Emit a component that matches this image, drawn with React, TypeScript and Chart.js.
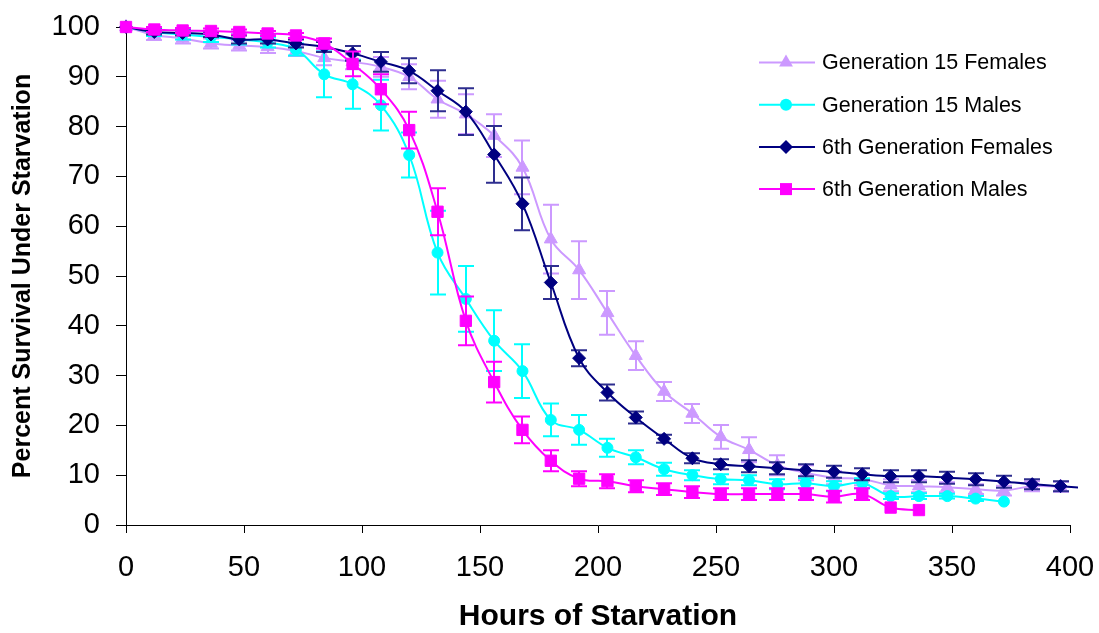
import React, { useEffect, useRef } from 'react';
import { Chart, registerables } from 'chart.js';

Chart.register(...registerables);

const HOURS = [0, 12, 24, 36, 48, 60, 72, 84, 96, 108, 120, 132, 144, 156, 168, 180, 192, 204, 216, 228, 240, 252, 264, 276, 288, 300, 312, 324, 336, 348, 360, 372, 384, 396, 408];

const SERIES_NAMES = ['Generation 15 Females', 'Generation 15 Males', '6th Generation Females', '6th Generation Males'];

const G15_FEMALES = [100, 98.4, 97.7, 96.7, 96.3, 96.0, 95.2, 93.8, 93.0, 92.0, 90.0, 85.5, 82.5, 78.2, 71.8, 57.4, 51.2, 42.6, 34.0, 26.8, 22.4, 17.7, 15.1, 12.0, 10.5, 9.5, 9.2, 8.0, 7.8, 7.6, 7.2, 6.9, 7.8, 7.7];
const G15_FEMALES_ERR = [0, 1.0, 1.0, 1.0, 1.0, 1.2, 1.0, 1.5, 1.5, 2.0, 2.5, 3.7, 4.0, 4.3, 5.4, 6.9, 5.8, 4.4, 2.9, 1.9, 1.9, 2.4, 2.5, 2.0, 1.5, 1.3, 1.2, 1.2, 1.2, 1.0, 1.0, 1.0, 1.0, 1.0];

const G15_MALES = [100, 99.0, 98.5, 98.0, 97.5, 96.9, 95.5, 90.5, 88.5, 84.3, 74.3, 54.7, 45.4, 37.0, 30.9, 21.1, 19.1, 15.5, 13.6, 11.2, 10.0, 9.2, 9.0, 8.2, 8.4, 7.8, 8.4, 5.8, 5.8, 5.8, 5.3, 4.7];
const G15_MALES_ERR = [0, 0.8, 1.0, 1.0, 1.0, 1.0, 1.2, 4.6, 4.9, 5.1, 4.5, 8.4, 6.6, 6.1, 5.4, 3.3, 3.0, 1.8, 1.4, 1.3, 1.0, 1.0, 1.0, 1.0, 1.0, 1.0, 1.0, 0.6, 0.6, 0.5, 0.5, 0];

const G6_FEMALES = [100, 99.0, 98.8, 98.5, 97.5, 97.5, 96.7, 96.0, 94.7, 93.0, 91.2, 87.2, 83.0, 74.4, 64.5, 48.7, 33.5, 26.6, 21.6, 17.3, 13.4, 12.2, 11.8, 11.4, 11.0, 10.7, 10.2, 9.8, 9.8, 9.5, 9.2, 8.7, 8.2, 7.8, 7.4];
const G6_FEMALES_ERR = [0, 0.5, 0.5, 0.5, 0.8, 0.8, 0.8, 1.0, 1.5, 2.0, 2.5, 4.1, 4.7, 5.7, 5.3, 3.3, 1.6, 1.6, 1.2, 0.8, 1.0, 1.0, 1.2, 1.2, 1.2, 1.2, 1.2, 1.2, 1.2, 1.2, 1.2, 1.2, 1.0, 1.0, 0];

const G6_MALES = [100, 99.5, 99.3, 99.2, 99.0, 98.7, 98.3, 96.7, 92.6, 87.5, 79.3, 62.9, 41.0, 28.7, 19.1, 12.9, 9.3, 8.8, 7.8, 7.2, 6.6, 6.2, 6.2, 6.2, 6.2, 5.7, 6.2, 3.5, 3.0];
const G6_MALES_ERR = [0, 0.5, 0.5, 0.5, 0.5, 0.5, 0.5, 1.0, 2.5, 3.0, 3.7, 4.7, 4.9, 4.1, 2.7, 2.1, 1.5, 1.4, 1.2, 1.2, 1.2, 1.2, 1.2, 1.2, 1.2, 1.2, 1.2, 0, 0];

const X_TICKS = [0, 50, 100, 150, 200, 250, 300, 350, 400];
const Y_TICKS = [0, 10, 20, 30, 40, 50, 60, 70, 80, 90, 100];

const COLORS = ['#CC99FF', '#00FFFF', '#000080', '#FF00FF'];
const ERR_COLORS = ['#CC99FF', '#00FFFF', '#2E2E8F', '#FF00FF'];
const STYLES = ['triangle', 'circle', 'rectRot', 'rect'];
const RADII = [7.5, 5.5, 6.5, 8];

const FONT = '"Liberation Sans", Arial, sans-serif';

const toPoints = (vals: number[]) => vals.map((v, i) => ({ x: HOURS[i], y: v }));

function drawMarker(ctx: CanvasRenderingContext2D, style: string, x: number, y: number, r: number, color: string) {
  ctx.save();
  ctx.fillStyle = color;
  ctx.beginPath();
  if (style === 'triangle') {
    ctx.moveTo(x, y - r);
    ctx.lineTo(x + r * Math.sin(Math.PI / 3), y + r / 2);
    ctx.lineTo(x - r * Math.sin(Math.PI / 3), y + r / 2);
    ctx.closePath();
  } else if (style === 'circle') {
    ctx.arc(x, y, r, 0, Math.PI * 2);
  } else if (style === 'rectRot') {
    ctx.moveTo(x, y - r);
    ctx.lineTo(x + r, y);
    ctx.lineTo(x, y + r);
    ctx.lineTo(x - r, y);
    ctx.closePath();
  } else {
    const s = r * Math.SQRT1_2;
    ctx.rect(x - s, y - s, 2 * s, 2 * s);
  }
  ctx.fill();
  ctx.restore();
}

const errorBarPlugin = {
  id: 'errorBars',
  beforeDatasetDraw(chart: any, args: any) {
    const ds = chart.data.datasets[args.index];
    const errs: number[] = ds.errors || [];
    const xs = chart.scales.x;
    const ys = chart.scales.y;
    const ctx: CanvasRenderingContext2D = chart.ctx;
    ctx.save();
    ctx.strokeStyle = ds.errColor;
    ctx.lineWidth = 2;
    ds.data.forEach((p: any, i: number) => {
      const e = errs[i] || 0;
      if (!e || p.x > 400) return;
      const px = Math.round(xs.getPixelForValue(p.x));
      const y1 = ys.getPixelForValue(p.y + e);
      const y2 = ys.getPixelForValue(p.y - e);
      ctx.beginPath();
      ctx.moveTo(px, y1);
      ctx.lineTo(px, y2);
      ctx.moveTo(px - 8, y1);
      ctx.lineTo(px + 8, y1);
      ctx.moveTo(px - 8, y2);
      ctx.lineTo(px + 8, y2);
      ctx.stroke();
    });
    ctx.restore();
  },
};

const legendPlugin = {
  id: 'customLegend',
  afterDraw(chart: any) {
    const ctx: CanvasRenderingContext2D = chart.ctx;
    ctx.save();
    SERIES_NAMES.forEach((name, i) => {
      const y = 62.5 + i * 42.2;
      ctx.strokeStyle = COLORS[i];
      ctx.lineWidth = 2;
      ctx.beginPath();
      ctx.moveTo(759, y);
      ctx.lineTo(815, y);
      ctx.stroke();
      drawMarker(ctx, STYLES[i], 786, y, RADII[i] + 0.5, COLORS[i]);
      ctx.fillStyle = '#000';
      ctx.font = `21.5px ${FONT}`;
      ctx.textAlign = 'left';
      ctx.textBaseline = 'middle';
      ctx.fillText(name, 822, y + 1);
    });
    ctx.restore();
  },
};

export default function App() {
  const ref = useRef<HTMLCanvasElement | null>(null);

  useEffect(() => {
    if (!ref.current) return;
    const all = [G15_FEMALES, G15_MALES, G6_FEMALES, G6_MALES];
    const errs = [G15_FEMALES_ERR, G15_MALES_ERR, G6_FEMALES_ERR, G6_MALES_ERR];
    const datasets: any[] = all.map((vals, i) => ({
      label: SERIES_NAMES[i],
      data: toPoints(vals),
      errors: errs[i],
      errColor: ERR_COLORS[i],
      borderColor: COLORS[i],
      backgroundColor: COLORS[i],
      borderWidth: 2,
      pointStyle: STYLES[i],
      pointRadius: RADII[i],
      pointBorderWidth: 1,
      pointBorderColor: COLORS[i],
      pointBackgroundColor: COLORS[i],
      tension: 0.4,
      order: 3 - i,
      clip: { left: 12, top: 12, right: 8, bottom: 12 },
    }));

    const chart = new Chart(ref.current, {
      type: 'line',
      data: { datasets },
      plugins: [errorBarPlugin, legendPlugin],
      options: {
        animation: false,
        responsive: true,
        maintainAspectRatio: false,
        layout: { autoPadding: false, padding: { left: 0, top: 27, right: 29, bottom: 0 } },
        plugins: {
          legend: { display: false },
          tooltip: { enabled: false },
        },
        scales: {
          x: {
            type: 'linear',
            min: 0,
            max: 400,
            afterFit: (s: any) => { s.height = 108; s.paddingLeft = 0; s.paddingRight = 0; },
            afterBuildTicks: (s: any) => { s.ticks = X_TICKS.map((v) => ({ value: v })); },
            grid: { display: true, drawOnChartArea: false, drawTicks: true, tickLength: 8, color: '#000', lineWidth: 1 },
            border: { display: true, color: '#000', width: 1 },
            ticks: { color: '#000', font: { family: FONT, size: 29, lineHeight: 1 }, padding: 20, maxRotation: 0, autoSkip: false },
            title: { display: true, text: 'Hours of Starvation', color: '#000', font: { family: FONT, size: 30, weight: 'bold', lineHeight: 1.1 }, padding: { top: 0, bottom: 0 } },
          },
          y: {
            type: 'linear',
            min: 0,
            max: 100,
            afterFit: (s: any) => { s.width = 126; s.paddingTop = 0; s.paddingBottom = 0; },
            afterBuildTicks: (s: any) => { s.ticks = Y_TICKS.map((v) => ({ value: v })); },
            grid: { display: true, drawOnChartArea: false, drawTicks: true, tickLength: 10, color: '#000', lineWidth: 1 },
            border: { display: true, color: '#000', width: 1 },
            ticks: { color: '#000', font: { family: FONT, size: 29, lineHeight: 1 }, padding: 16, autoSkip: false },
            title: { display: true, text: 'Percent Survival Under Starvation', color: '#000', font: { family: FONT, size: 25, weight: 'bold' }, padding: { top: 8, bottom: 0 } },
          },
        },
      } as any,
    });
    return () => chart.destroy();
  }, []);

  return (
    <div style={{ position: 'fixed', left: 0, top: 0, width: 1099, height: 633, background: '#fff' }}>
      <canvas ref={ref} />
    </div>
  );
}
